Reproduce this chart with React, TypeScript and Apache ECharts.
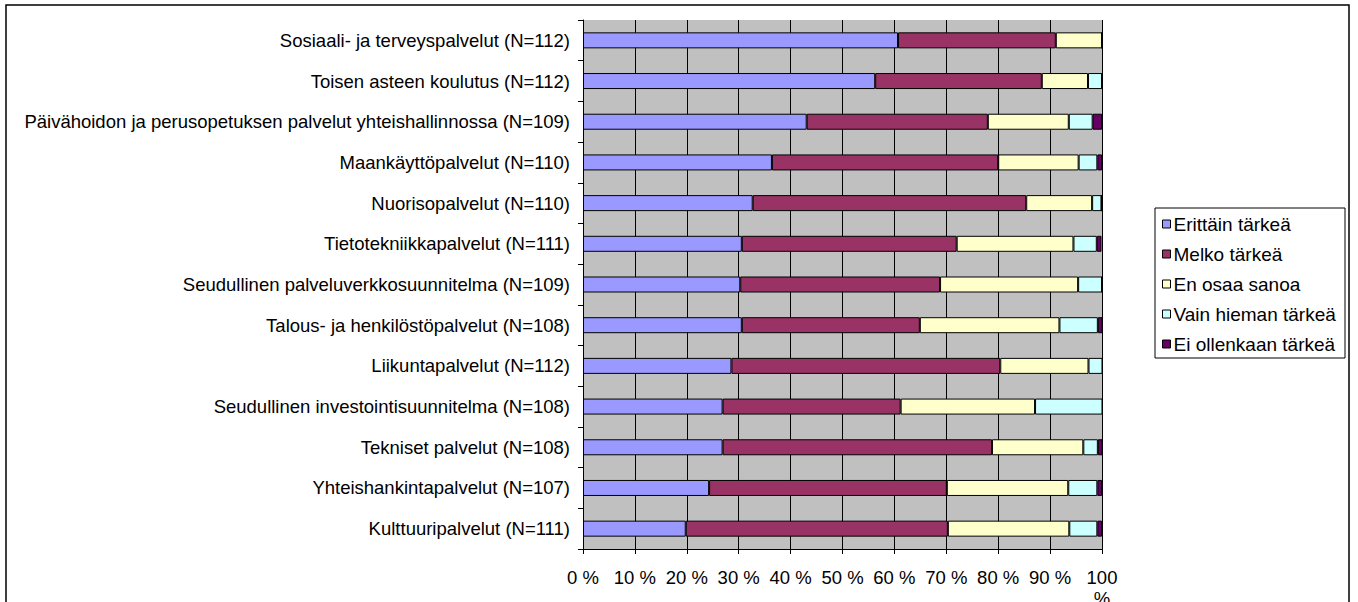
import React, { useEffect, useRef } from "react";
import * as echarts from "echarts";

const categories = [
  "Sosiaali- ja terveyspalvelut (N=112)",
  "Toisen asteen koulutus (N=112)",
  "Päivähoidon ja perusopetuksen palvelut yhteishallinnossa (N=109)",
  "Maankäyttöpalvelut (N=110)",
  "Nuorisopalvelut (N=110)",
  "Tietotekniikkapalvelut (N=111)",
  "Seudullinen palveluverkkosuunnitelma (N=109)",
  "Talous- ja henkilöstöpalvelut (N=108)",
  "Liikuntapalvelut (N=112)",
  "Seudullinen investointisuunnitelma (N=108)",
  "Tekniset palvelut (N=108)",
  "Yhteishankintapalvelut (N=107)",
  "Kulttuuripalvelut (N=111)",
];

const seriesNames = [
  "Erittäin tärkeä",
  "Melko tärkeä",
  "En osaa sanoa",
  "Vain hieman tärkeä",
  "Ei ollenkaan tärkeä",
];

const erittain = [60.7, 56.3, 43.1, 36.4, 32.7, 30.6, 30.3, 30.6, 28.6, 26.9, 26.9, 24.3, 19.8];
const melko = [30.4, 32.1, 34.9, 43.6, 52.7, 41.4, 38.5, 34.3, 51.8, 34.3, 51.9, 45.8, 50.5];
const enOsaa = [8.9, 8.9, 15.6, 15.5, 12.7, 22.5, 26.6, 26.9, 17.0, 25.9, 17.6, 23.4, 23.4];
const vainHieman = [0, 2.7, 4.6, 3.6, 1.8, 4.5, 4.6, 7.4, 2.7, 13.0, 2.8, 5.6, 5.4];
const eiOllenkaan = [0, 0, 1.8, 0.9, 0, 0.9, 0, 0.9, 0, 0, 0.9, 0.9, 0.9];

const colors = ["#9999FF", "#993366", "#FFFFCC", "#CCFFFF", "#660066"];
const xTicks = [0, 10, 20, 30, 40, 50, 60, 70, 80, 90, 100];

const FONT = "'Liberation Sans', Arial, sans-serif";

export default function App() {
  const ref = useRef<HTMLDivElement>(null);

  useEffect(() => {
    if (!ref.current) return;
    const chart = echarts.init(ref.current, undefined, { renderer: "svg" });
    const allData = [erittain, melko, enOsaa, vainHieman, eiOllenkaan];
    chart.setOption({
      animation: false,
      backgroundColor: "#ffffff",
      textStyle: { fontFamily: FONT },
      grid: {
        left: 583,
        right: 256,
        top: 20,
        bottom: 53,
        containLabel: false,
        outerBoundsMode: "none",
        show: true,
        backgroundColor: "#C0C0C0",
        borderWidth: 0,
      },
      legend: {
        orient: "vertical",
        left: 1162,
        top: 214,
        padding: 0,
        itemWidth: 8,
        itemHeight: 8,
        itemGap: 10,
        icon: "rect",
        data: seriesNames,
        itemStyle: { borderColor: "#000", borderWidth: 1 },
        textStyle: {
          fontFamily: FONT,
          fontSize: 19,
          color: "#000",
          lineHeight: 20,
          padding: [0, 0, 0, -2],
        },
      },
      xAxis: {
        type: "value",
        min: 0,
        max: xTicks[xTicks.length - 1],
        interval: 10,
        axisLine: { show: true, lineStyle: { color: "#000", width: 1 } },
        axisTick: { show: true, length: 5, lineStyle: { color: "#000" } },
        splitLine: { show: true, lineStyle: { color: "#000", width: 1 } },
        axisLabel: {
          margin: 18,
          fontFamily: FONT,
          fontSize: 18.5,
          color: "#000",
          lineHeight: 21,
          verticalAlign: "top",
          formatter: (v: number) => (v === 100 ? "100\n%" : v + " %"),
        },
      },
      yAxis: {
        type: "category",
        inverse: true,
        data: categories,
        axisLine: { show: true, lineStyle: { color: "#000", width: 1 } },
        axisTick: { show: true, length: 5, alignWithLabel: false, lineStyle: { color: "#000" } },
        splitLine: { show: false },
        axisLabel: {
          margin: 13,
          fontFamily: FONT,
          fontSize: 18.5,
          color: "#000",
        },
      },
      series: seriesNames.map((name, i) => ({
        name,
        type: "bar",
        stack: "total",
        barWidth: 16,
        data: allData[i],
        itemStyle: { color: colors[i], borderColor: "#000", borderWidth: 1 },
        emphasis: { disabled: true },
      })),
      graphic: [
        {
          type: "rect",
          shape: { x: 6, y: 5, width: 1343, height: 640 },
          style: { fill: "none", stroke: "#000", lineWidth: 1.5 },
          silent: true,
        },
        {
          type: "rect",
          shape: { x: 1155, y: 208, width: 190, height: 150 },
          style: { fill: "none", stroke: "#000", lineWidth: 1 },
          silent: true,
        },
      ],
    });
    return () => chart.dispose();
  }, []);

  return (
    <div
      ref={ref}
      style={{ position: "fixed", left: 0, top: 0, width: 1358, height: 602 }}
    />
  );
}
